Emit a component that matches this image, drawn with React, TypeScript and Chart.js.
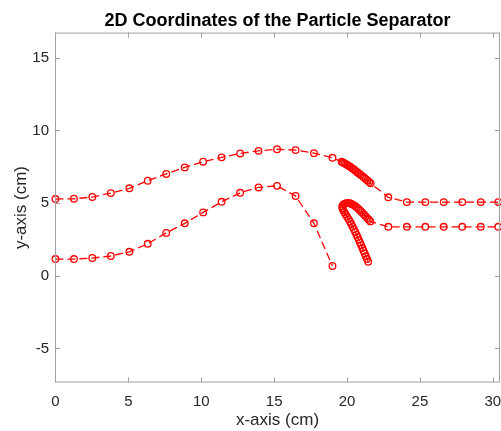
import { useEffect, useRef } from 'react';
import { Chart, registerables } from 'chart.js';

Chart.register(...registerables);

const FONT = '"Liberation Sans", Arial, Helvetica, sans-serif';

// shared x positions of the first 16 samples
const mainX = [0, 1.27, 2.53, 3.8, 5.07, 6.33, 7.6, 8.87, 10.13, 11.4, 12.67, 13.93, 15.2, 16.47, 17.73, 19.0];

// upper wall
const upperX = [
  ...mainX,
  19.63, 19.72, 19.82, 19.93, 20.04, 20.15, 20.26, 20.37, 20.48, 20.59, 20.7, 20.81, 20.92, 21.04, 21.16, 21.28, 21.4, 21.52, 21.62,
  22.83, 24.1, 25.37, 26.63, 27.9, 29.17, 30.37,
];
const upperY = [
  5.28, 5.3, 5.42, 5.69, 6.02, 6.54, 7.01, 7.46, 7.85, 8.15, 8.42, 8.6, 8.71, 8.65, 8.44, 8.12,
  7.85, 7.8, 7.74, 7.68, 7.61, 7.54, 7.47, 7.39, 7.31, 7.22, 7.13, 7.04, 6.95, 6.86, 6.76, 6.66, 6.56, 6.46, 6.36,
  5.4, 5.07, 5.07, 5.07, 5.07, 5.07, 5.07,
];

// lower wall
const lowerX = [...mainX];
const lowerY = [1.15, 1.15, 1.22, 1.36, 1.65, 2.2, 2.95, 3.61, 4.36, 5.09, 5.71, 6.08, 6.19, 5.49, 3.61, 0.67];

// splitter hook + lower outlet
const hookX = [
  21.45, 21.37, 21.29, 21.21, 21.13, 21.05, 20.97, 20.89, 20.81, 20.73, 20.65, 20.56, 20.47, 20.38, 20.29, 20.2, 20.1, 20.0, 19.9, 19.81, 19.73, 19.68,
  19.68, 19.74, 19.84, 19.95, 20.07, 20.19, 20.31,
  20.43, 20.55, 20.67, 20.79, 20.91, 21.03, 21.15, 21.27, 21.39, 21.5, 21.6,
  22.83, 24.1, 25.37, 26.63, 27.9, 29.17, 30.37,
];
const hookY = [
  0.96, 1.15, 1.34, 1.53, 1.72, 1.91, 2.1, 2.28, 2.47, 2.65, 2.83, 3.02, 3.2, 3.38, 3.56, 3.73, 3.9, 4.07, 4.23, 4.38, 4.52, 4.66,
  4.79, 4.89, 4.96, 5.0, 5.01, 4.99, 4.94,
  4.88, 4.8, 4.71, 4.6, 4.48, 4.36, 4.23, 4.1, 3.97, 3.85, 3.74,
  3.37, 3.37, 3.37, 3.37, 3.37, 3.37, 3.37,
];

const xTicks = [0, 5, 10, 15, 20, 25, 30];
const yTicks = [-5, 0, 5, 10, 15];

const toPts = (xs: number[], ys: number[]) => xs.map((x, i) => ({ x, y: ys[i] }));

const AXIS_COLOR = '#a0a0a0';
const TEXT_COLOR = '#262626';
const RED = '#ff0000';

const boxPlugin = {
  id: 'boxTicks',
  afterDraw(chart: any) {
    const { ctx, chartArea: a, scales } = chart;
    const xs = scales.x;
    const ys = scales.y;
    ctx.save();
    ctx.strokeStyle = AXIS_COLOR;
    ctx.lineWidth = 1;
    ctx.strokeRect(a.left + 0.5, a.top + 0.5, a.right - a.left - 1, a.bottom - a.top - 1);
    const L = 5;
    ctx.beginPath();
    xTicks.forEach((v) => {
      const px = Math.round(xs.getPixelForValue(v)) + 0.5;
      ctx.moveTo(px, a.bottom);
      ctx.lineTo(px, a.bottom - L);
      ctx.moveTo(px, a.top);
      ctx.lineTo(px, a.top + L);
    });
    yTicks.forEach((v) => {
      const py = Math.round(ys.getPixelForValue(v)) + 0.5;
      ctx.moveTo(a.left, py);
      ctx.lineTo(a.left + L, py);
      ctx.moveTo(a.right, py);
      ctx.lineTo(a.right - L, py);
    });
    ctx.stroke();
    ctx.restore();
  },
};

const makeDs = (xs: number[], ys: number[]) => ({
  data: toPts(xs, ys),
  showLine: true,
  borderColor: RED,
  borderWidth: 1.3,
  borderDash: [8, 4],
  pointRadius: 3.3,
  pointBorderWidth: 1.3,
  pointBorderColor: RED,
  pointBackgroundColor: 'rgba(0,0,0,0)',
  pointStyle: 'circle',
  clip: false as any,
});

export default function App() {
  const ref = useRef<HTMLCanvasElement>(null);
  useEffect(() => {
    const chart = new Chart(ref.current!, {
      type: 'scatter',
      data: {
        datasets: [makeDs(upperX, upperY), makeDs(lowerX, lowerY), makeDs(hookX, hookY)],
      },
      plugins: [boxPlugin],
      options: {
        responsive: false,
        animation: false,
        devicePixelRatio: 1,
        layout: { autoPadding: false, padding: { left: 0, right: 1, top: 0, bottom: 0 } },
        plugins: {
          legend: { display: false },
          tooltip: { enabled: false },
          title: {
            display: true,
            text: '2D Coordinates of the Particle Separator',
            fullSize: false,
            color: '#000000',
            font: { family: FONT, size: 18, weight: 'bold', lineHeight: 1.2 },
            padding: { top: 10, bottom: 1 },
          },
        },
        scales: {
          x: {
            type: 'linear',
            min: -0.03,
            max: 30.49,
            afterBuildTicks: (s: any) => {
              s.ticks = xTicks.map((v) => ({ value: v }));
            },
            afterFit: (s: any) => {
              s.height = 48.5;
              s.paddingLeft = 0;
              s.paddingRight = 0;
            },
            grid: { display: false, drawTicks: false },
            border: { display: false },
            ticks: { color: TEXT_COLOR, font: { family: FONT, size: 15 }, padding: 10, maxRotation: 0 },
            title: {
              display: true,
              text: 'x-axis (cm)',
              color: TEXT_COLOR,
              font: { family: FONT, size: 17, lineHeight: 1.2 },
              padding: { top: 0, bottom: 0 },
            },
          },
          y: {
            type: 'linear',
            min: -7.35,
            max: 16.74,
            afterBuildTicks: (s: any) => {
              s.ticks = yTicks.map((v) => ({ value: v }));
            },
            afterFit: (s: any) => {
              s.width = 55;
              s.paddingTop = 0;
              s.paddingBottom = 0;
            },
            grid: { display: false, drawTicks: false },
            border: { display: false },
            ticks: { color: TEXT_COLOR, font: { family: FONT, size: 15 }, padding: 6 },
            title: {
              display: true,
              text: 'y-axis (cm)',
              color: TEXT_COLOR,
              font: { family: FONT, size: 17, lineHeight: 1.2 },
              padding: { top: 11, bottom: 0 },
            },
          },
        },
      },
    });
    return () => chart.destroy();
  }, []);
  return (
    <div style={{ position: 'absolute', left: 0, top: 0, width: 501, height: 431 }}>
      <canvas ref={ref} width={501} height={431} style={{ display: 'block' }} />
    </div>
  );
}
